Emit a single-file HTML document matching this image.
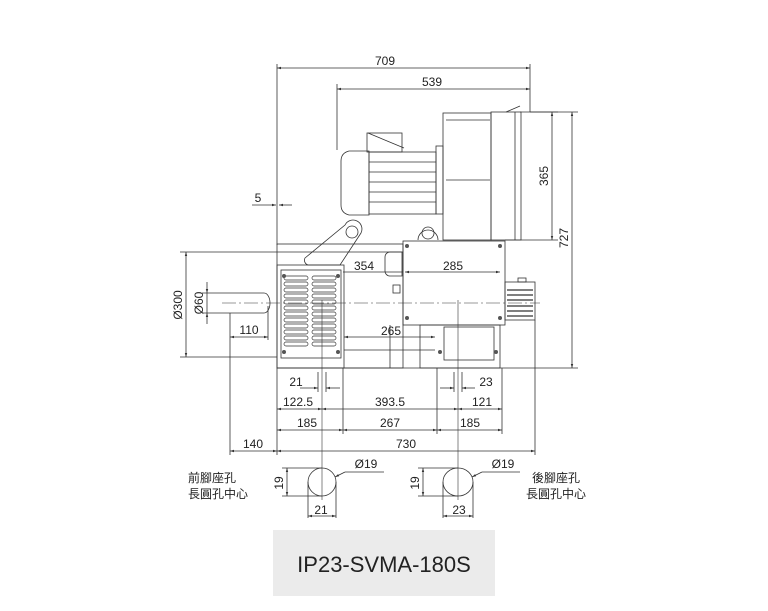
<!DOCTYPE html>
<html><head><meta charset="utf-8"><style>
html,body{margin:0;padding:0;background:#fff;}
svg{display:block;font-family:"Liberation Sans",Arial,sans-serif;}
</style></head><body>
<svg width="768" height="611" viewBox="0 0 768 611" xmlns="http://www.w3.org/2000/svg">
<defs>
<marker id="a" viewBox="0 0 10 10" refX="10" refY="5" markerWidth="7" markerHeight="5" orient="auto-start-reverse"><path d="M0,2 L10,5 L0,8z" fill="#333"/></marker>
</defs>
<g stroke="#333" stroke-width="0.8" fill="none">
<line x1="277" y1="64" x2="277" y2="245"/>
<line x1="530" y1="64" x2="530" y2="112"/>
<line x1="337" y1="84" x2="337" y2="150"/>
<line x1="520" y1="112" x2="558" y2="112"/>
<line x1="505" y1="240" x2="558" y2="240"/>
<line x1="530" y1="112" x2="578" y2="112"/>
<line x1="505" y1="368" x2="578" y2="368"/>
<line x1="277" y1="68" x2="530" y2="68" marker-start="url(#a)" marker-end="url(#a)"/>
<line x1="337" y1="89" x2="530" y2="89" marker-start="url(#a)" marker-end="url(#a)"/>
<line x1="552" y1="112" x2="552" y2="240" marker-start="url(#a)" marker-end="url(#a)"/>
<line x1="572" y1="112" x2="572" y2="368" marker-start="url(#a)" marker-end="url(#a)"/>
<line x1="252" y1="205" x2="276" y2="205" marker-end="url(#a)"/>
<line x1="292" y1="205" x2="279" y2="205" marker-end="url(#a)"/>
<line x1="180" y1="252" x2="277" y2="252"/>
<line x1="180" y1="357" x2="277" y2="357"/>
<line x1="186" y1="252" x2="186" y2="357" marker-start="url(#a)" marker-end="url(#a)"/>
<line x1="202" y1="293" x2="228" y2="293"/>
<line x1="202" y1="313" x2="228" y2="313"/>
<line x1="207" y1="282" x2="207" y2="293" marker-end="url(#a)"/>
<line x1="207" y1="324" x2="207" y2="313" marker-end="url(#a)"/>
<line x1="207" y1="293" x2="207" y2="313"/>
<line x1="230" y1="313" x2="230" y2="455"/>
<line x1="268" y1="306" x2="268" y2="340"/>
<line x1="230" y1="337" x2="268" y2="337" marker-start="url(#a)" marker-end="url(#a)"/>
<path d="M228,293 H264 a6,10 0 0 1 0,20 H228" />
<line x1="222" y1="303" x2="540" y2="303" stroke-dasharray="14,3,2,3" stroke-width="0.6"/>
<rect x="277" y="244" width="126" height="124"/>
<rect x="277" y="265" width="67" height="103"/>
<rect x="281" y="270" width="60" height="88"/>
<line x1="277" y1="252" x2="403" y2="252"/>
<line x1="344" y1="350" x2="435" y2="350"/>
<line x1="277" y1="368" x2="505" y2="368"/>
<line x1="390" y1="325" x2="390" y2="368"/>
<g stroke-width="0.7">
<rect x="284" y="276" width="24" height="4" rx="2"/><rect x="312" y="276" width="24" height="4" rx="2"/>
<rect x="284" y="282" width="24" height="4" rx="2"/><rect x="312" y="282" width="24" height="4" rx="2"/>
<rect x="284" y="288" width="24" height="4" rx="2"/><rect x="312" y="288" width="24" height="4" rx="2"/>
<rect x="284" y="294" width="24" height="4" rx="2"/><rect x="312" y="294" width="24" height="4" rx="2"/>
<rect x="284" y="300" width="24" height="4" rx="2"/><rect x="312" y="300" width="24" height="4" rx="2"/>
<rect x="284" y="306" width="24" height="4" rx="2"/><rect x="312" y="306" width="24" height="4" rx="2"/>
<rect x="284" y="312" width="24" height="4" rx="2"/><rect x="312" y="312" width="24" height="4" rx="2"/>
<rect x="284" y="318" width="24" height="4" rx="2"/><rect x="312" y="318" width="24" height="4" rx="2"/>
<rect x="284" y="324" width="24" height="4" rx="2"/><rect x="312" y="324" width="24" height="4" rx="2"/>
<rect x="284" y="330" width="24" height="4" rx="2"/><rect x="312" y="330" width="24" height="4" rx="2"/>
<rect x="284" y="336" width="24" height="4" rx="2"/><rect x="312" y="336" width="24" height="4" rx="2"/>
<rect x="284" y="342" width="24" height="4" rx="2"/><rect x="312" y="342" width="24" height="4" rx="2"/>
</g>
<path d="M305,258 L345,225 a8,8 0 0 1 16,8 L340,265 H308 a5,5 0 0 1 -3,-7z"/>
<circle cx="352" cy="232" r="6"/>
<path d="M418,240 a10,10 0 1 1 20,0"/>
<circle cx="428" cy="233" r="6"/>
<rect x="403" y="241" width="102" height="84"/>
<line x1="343" y1="272" x2="403" y2="272"/>
<line x1="405" y1="272" x2="500" y2="272" marker-start="url(#a)" marker-end="url(#a)"/>
<path d="M390,252 h12 v24 h-12 a5,5 0 0 1 -5,-5 v-14 a5,5 0 0 1 5,-5z"/>
<rect x="393" y="285" width="7" height="8"/>
<rect x="420" y="325" width="80" height="43"/>
<rect x="444" y="327" width="50" height="33"/>
<line x1="344" y1="337" x2="435" y2="337" marker-start="url(#a)" marker-end="url(#a)"/>
<rect x="505" y="282" width="30" height="38"/>
<g stroke-width="1.3"><line x1="507" y1="290" x2="533" y2="290"/><line x1="507" y1="295" x2="533" y2="295"/><line x1="507" y1="300" x2="533" y2="300"/><line x1="507" y1="306" x2="533" y2="306"/><line x1="507" y1="311" x2="533" y2="311"/><line x1="507" y1="316" x2="533" y2="316"/></g>
<rect x="518" y="278" width="8" height="4"/>
<path d="M349,151 h20 v64 h-20 q-8,-2 -8,-10 v-44 q0,-8 8,-10z"/>
<rect x="369" y="152" width="67" height="62"/>
<line x1="369" y1="162" x2="436" y2="162"/><line x1="369" y1="172" x2="436" y2="172"/><line x1="369" y1="182" x2="436" y2="182"/><line x1="369" y1="192" x2="436" y2="192"/><line x1="369" y1="202" x2="436" y2="202"/>
<rect x="367" y="133" width="35" height="19"/>
<line x1="368" y1="133" x2="404" y2="148"/>
<rect x="436" y="146" width="7" height="68"/>
<rect x="443" y="113" width="48" height="127"/>
<rect x="491" y="112" width="30" height="128"/>
<line x1="446" y1="120" x2="490" y2="120"/>
<line x1="446" y1="180" x2="490" y2="180"/>
<line x1="515" y1="112" x2="515" y2="240"/>
<line x1="506" y1="112" x2="520" y2="106"/>
<line x1="277" y1="368" x2="277" y2="455"/>
<line x1="343" y1="368" x2="343" y2="434"/>
<line x1="437" y1="368" x2="437" y2="434"/>
<line x1="502" y1="368" x2="502" y2="434"/>
<line x1="535" y1="320" x2="535" y2="455"/>
<line x1="322" y1="300" x2="322" y2="500" stroke-width="0.6"/>
<line x1="458" y1="300" x2="458" y2="500" stroke-width="0.6"/>
<line x1="318" y1="372" x2="318" y2="392"/><line x1="326" y1="372" x2="326" y2="392"/>
<line x1="454" y1="372" x2="454" y2="392"/><line x1="462" y1="372" x2="462" y2="392"/>
<line x1="300" y1="388" x2="318" y2="388" marker-end="url(#a)"/>
<line x1="340" y1="388" x2="326" y2="388" marker-end="url(#a)"/>
<line x1="440" y1="388" x2="454" y2="388" marker-end="url(#a)"/>
<line x1="475" y1="388" x2="462" y2="388" marker-end="url(#a)"/>
<line x1="277" y1="409" x2="322" y2="409" marker-start="url(#a)" marker-end="url(#a)"/>
<line x1="322" y1="409" x2="458" y2="409" marker-start="url(#a)" marker-end="url(#a)"/>
<line x1="458" y1="409" x2="502" y2="409" marker-start="url(#a)" marker-end="url(#a)"/>
<line x1="277" y1="430" x2="343" y2="430" marker-start="url(#a)" marker-end="url(#a)"/>
<line x1="343" y1="430" x2="437" y2="430" marker-start="url(#a)" marker-end="url(#a)"/>
<line x1="437" y1="430" x2="502" y2="430" marker-start="url(#a)" marker-end="url(#a)"/>
<line x1="230" y1="451" x2="277" y2="451" marker-start="url(#a)" marker-end="url(#a)"/>
<line x1="277" y1="451" x2="535" y2="451" marker-start="url(#a)" marker-end="url(#a)"/>
<ellipse cx="322" cy="482" rx="14" ry="14"/>
<ellipse cx="458" cy="482" rx="15" ry="14"/>
<line x1="282" y1="468" x2="322" y2="468"/><line x1="282" y1="496" x2="322" y2="496"/>
<line x1="287" y1="468" x2="287" y2="496" marker-start="url(#a)" marker-end="url(#a)"/>
<line x1="308" y1="482" x2="308" y2="518"/><line x1="336" y1="482" x2="336" y2="518"/>
<line x1="308" y1="516" x2="336" y2="516" marker-start="url(#a)" marker-end="url(#a)"/>
<line x1="384" y1="472" x2="345" y2="472"/><line x1="345" y1="472" x2="335" y2="477" marker-end="url(#a)"/>
<line x1="418" y1="468" x2="458" y2="468"/><line x1="418" y1="496" x2="458" y2="496"/>
<line x1="423" y1="468" x2="423" y2="496" marker-start="url(#a)" marker-end="url(#a)"/>
<line x1="443" y1="482" x2="443" y2="518"/><line x1="473" y1="482" x2="473" y2="518"/>
<line x1="443" y1="516" x2="473" y2="516" marker-start="url(#a)" marker-end="url(#a)"/>
<line x1="520" y1="472" x2="482" y2="472"/><line x1="482" y1="472" x2="472" y2="477" marker-end="url(#a)"/>
</g>
<g fill="#555">
<circle cx="284" cy="276" r="2"/><circle cx="338" cy="276" r="2"/><circle cx="284" cy="352" r="2"/><circle cx="338" cy="352" r="2"/>
<circle cx="407" cy="246" r="2"/><circle cx="500" cy="246" r="2"/><circle cx="407" cy="318" r="2"/><circle cx="500" cy="318" r="2"/>
<circle cx="440" cy="352" r="2"/><circle cx="496" cy="352" r="2"/>
</g>
<g fill="#222" font-size="12" text-anchor="middle">
<text x="385" y="65">709</text>
<text x="432" y="86">539</text>
<text x="258" y="202">5</text>
<text x="364" y="270">354</text>
<text x="453" y="270">285</text>
<text x="391" y="335">265</text>
<text x="249" y="334">110</text>
<text x="296" y="386">21</text>
<text x="486" y="386">23</text>
<text x="298" y="406">122.5</text>
<text x="390" y="406">393.5</text>
<text x="482" y="406">121</text>
<text x="307" y="427">185</text>
<text x="390" y="427">267</text>
<text x="470" y="427">185</text>
<text x="253" y="448">140</text>
<text x="406" y="448">730</text>
<text x="366" y="468">Ø19</text>
<text x="503" y="468">Ø19</text>
<text x="321" y="514">21</text>
<text x="459" y="514">23</text>
<text transform="translate(548,176) rotate(-90)">365</text>
<text transform="translate(568,238) rotate(-90)">727</text>
<text transform="translate(182,305) rotate(-90)">Ø300</text>
<text transform="translate(203,303) rotate(-90)">Ø60</text>
<text transform="translate(283,483) rotate(-90)">19</text>
<text transform="translate(419,483) rotate(-90)">19</text>
</g>
<g fill="#222" font-size="12" text-anchor="middle" font-family="'Liberation Sans','Noto Sans CJK TC',sans-serif">
<text x="212" y="482">前腳座孔</text>
<text x="218" y="498">長圓孔中心</text>
<text x="556" y="482">後腳座孔</text>
<text x="556" y="498">長圓孔中心</text>
</g>
<rect x="273" y="530" width="222" height="66" fill="#ebebeb"/>
<text x="384" y="572" font-size="22" fill="#222" text-anchor="middle">IP23-SVMA-180S</text>
</svg>
</body></html>
